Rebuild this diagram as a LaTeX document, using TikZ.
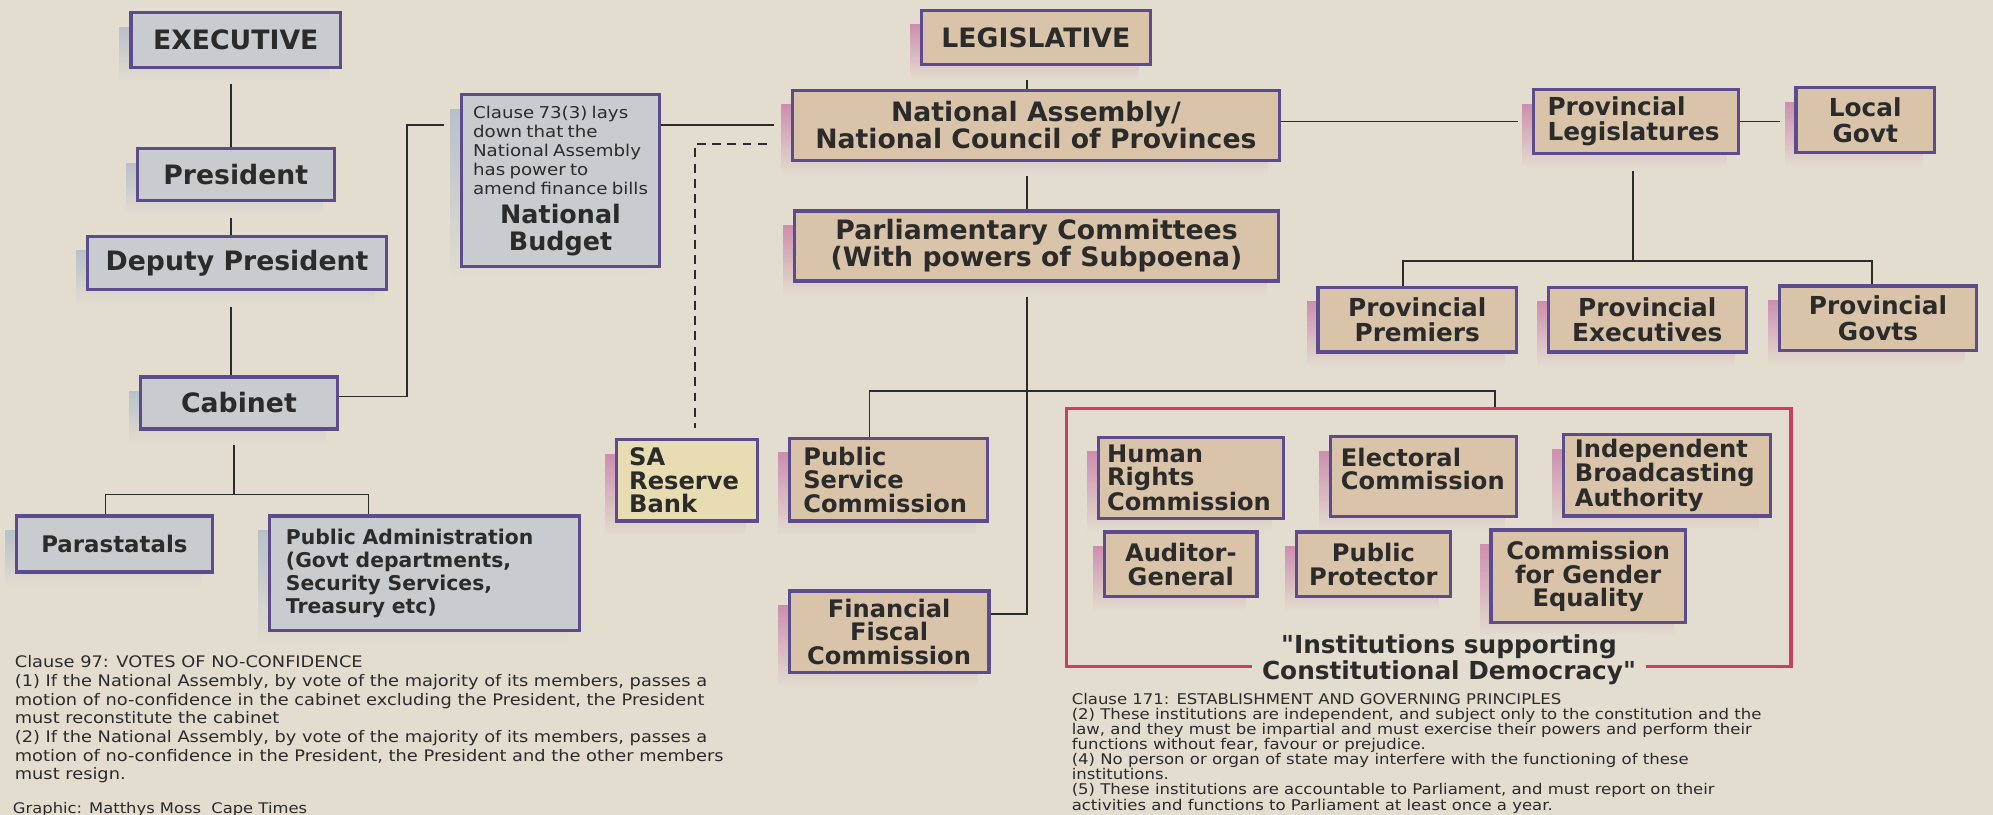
\documentclass[tikz,border=0pt]{standalone}
\usepackage{fontspec}
\setmainfont{DejaVu Sans}
\newfontfamily\noteFont[FakeStretch=1.12]{DejaVu Sans}
\newfontfamily\captionFont{DejaVu Sans}
\usepackage{xcolor}
\usetikzlibrary{shadows, fadings}

\definecolor{paper}{HTML}{E3DDCF}
\definecolor{exFill}{HTML}{C9CCCF}
\definecolor{exShadow}{HTML}{B3BECA}
\definecolor{lgFill}{HTML}{D9C4A9}
\definecolor{lgShadow}{HTML}{CB86AC}
\definecolor{bankFill}{HTML}{E8DDB2}
\definecolor{boxLine}{HTML}{5C4C8E}
\definecolor{frameRed}{HTML}{C8405E}
\definecolor{ink}{HTML}{2B2B2B}

\newcommand{\headFont}{\fontsize{21}{21}\selectfont\bfseries}
\newcommand{\bigFont}{\fontsize{21}{21}\selectfont\bfseries}
\newcommand{\provFont}{\fontsize{19.5}{20}\selectfont\bfseries}
\newcommand{\unitFont}{\fontsize{19}{18.5}\selectfont\bfseries}
\newcommand{\paraFont}{\fontsize{18}{18}\selectfont\bfseries}
\newcommand{\adminFont}{\fontsize{16}{18}\selectfont\bfseries}
\newcommand{\budgetNote}{\noteFont\fontsize{12.8}{15}\selectfont}
\newcommand{\budgetFont}{\fontsize{20}{21}\selectfont\bfseries}
\newcommand{\leftNote}{\noteFont\fontsize{12.5}{14.7}\selectfont}
\newcommand{\rightNote}{\noteFont\fontsize{11.6}{11.9}\selectfont}

\tikzset{
    orgBox/.style={draw=boxLine, line width=2.6pt, inner xsep=6pt, inner ysep=2pt, text=ink, align=center},
    exBox/.style={orgBox, fill=exFill, drop shadow={shadow xshift=-9pt, shadow yshift=-11pt, fill=exShadow, opacity=.9, path fading=south}},
    lgBox/.style={orgBox, fill=lgFill, drop shadow={shadow xshift=-9pt, shadow yshift=-11pt, fill=lgShadow, opacity=.9, path fading=south}},
    frameBox/.style={draw=frameRed, line width=2.8pt, inner sep=0pt},
    link/.style={draw=ink, line width=1.4pt},
    dashLink/.style={link, dash pattern=on 7pt off 5pt},
    noteText/.style={anchor=north west, inner sep=0pt, align=left, text=ink}
}

\begin{document}
\begin{tikzpicture}[x=1pt, y=-1pt]
    \fill[paper] (0,0) rectangle (1568,641);
    \useasboundingbox (0,0) rectangle (1568,641);

    % --- Executive ---
    \node[exBox, font=\headFont, minimum width=165pt, minimum height=43pt] (exec) at (185.5,31.5) {EXECUTIVE};
    \node[exBox, font=\bigFont, minimum width=155pt, minimum height=41pt] (pres) at (185.5,137.5) {President};
    \node[exBox, font=\bigFont, minimum width=235pt, minimum height=42pt] (deputy) at (186.5,207) {Deputy President};
    \node[exBox, font=\bigFont, minimum width=155pt, minimum height=41pt] (cabinet) at (188,317) {Cabinet};
    \node[exBox, font=\paraFont, minimum width=154pt, minimum height=44pt] (para) at (90,428) {Parastatals};
    \node[exBox, font=\adminFont, align=left, text width=218pt, inner xsep=13pt, minimum height=90pt] (pubadmin) at (334,451)
        {Public Administration\\(Govt departments,\\Security Services,\\Treasury etc)};
    \node[exBox, text width=144pt, minimum height=135pt] (budget) at (441,142)
        {{\budgetNote\begin{tabular}{@{}l@{}}Clause 73(3) lays\\down that the\\National Assembly\\has power to\\amend finance bills\end{tabular}}\\[2pt]{\budgetFont National\\Budget\par}};

    % --- Legislative ---
    \node[lgBox, font=\headFont, minimum width=180pt, minimum height=43pt] (legis) at (815,29.5) {LEGISLATIVE};
    \node[lgBox, font=\bigFont, minimum width=383pt, minimum height=55pt] (natass) at (815,98.5) {National Assembly/\\National Council of Provinces};
    \node[lgBox, font=\bigFont, minimum width=381pt, minimum height=55pt] (parl) at (815.5,193.5) {Parliamentary Committees\\(With powers of Subpoena)};
    \node[lgBox, font=\provFont, align=left, text width=139pt, inner xsep=11pt, minimum height=50pt] (provleg) at (1287,95.5) {Provincial\\Legislatures};
    \node[lgBox, font=\provFont, minimum width=109pt, minimum height=51pt] (localgovt) at (1467.5,94.5) {Local\\Govt};
    \node[lgBox, font=\provFont, minimum width=156pt, minimum height=51pt] (premiers) at (1115,251.5) {Provincial\\Premiers};
    \node[lgBox, font=\provFont, minimum width=156pt, minimum height=51pt] (provexec) at (1296,251.5) {Provincial\\Executives};
    \node[lgBox, font=\provFont, minimum width=155pt, minimum height=51pt] (provgovts) at (1477.5,250.5) {Provincial\\Govts};
    \node[lgBox, fill=bankFill, font=\unitFont, align=left, text width=91pt, inner xsep=10pt, minimum height=64pt] (sarb) at (540.5,378) {SA\\Reserve\\Bank};
    \node[lgBox, font=\unitFont, align=left, text width=134pt, inner xsep=11pt, minimum height=65pt] (psc) at (699,377.5) {Public\\Service\\Commission};
    \node[lgBox, font=\unitFont, minimum width=157pt, minimum height=64pt] (ffc) at (699.5,497) {Financial\\Fiscal\\Commission};

    % --- Institutions supporting constitutional democracy ---
    \node[frameBox, minimum width=570pt, minimum height=203pt] (instFrame) at (1124,423) {};
    \node[lgBox, font=\unitFont, align=left, text width=132pt, inner xsep=7pt, minimum height=64pt] (hrc) at (937,376) {Human\\Rights\\Commission};
    \node[lgBox, font=\unitFont, align=left, text width=130pt, inner xsep=8pt, minimum height=63pt] (elec) at (1120,375) {Electoral\\Commission\vspace*{12pt}};
    \node[lgBox, font=\unitFont, align=left, text width=145pt, inner xsep=9pt, minimum height=64pt] (iba) at (1311.5,374) {Independent\\Broadcasting\\Authority};
    \node[lgBox, font=\unitFont, minimum width=120pt, minimum height=51pt] (audit) at (929,444) {Auditor-\\General};
    \node[lgBox, font=\unitFont, minimum width=121pt, minimum height=51pt] (protector) at (1080.5,444) {Public\\Protector};
    \node[lgBox, font=\unitFont, minimum width=153pt, minimum height=73pt] (gender) at (1249.5,453.5) {Commission\\for Gender\\Equality};
    \node[fill=paper, text=ink, font=\captionFont\fontsize{19.5}{18.5}\selectfont\bfseries, align=center, inner xsep=8pt, inner ysep=1pt] (instCaption) at (1140,519)
        {"Institutions supporting\\Constitutional Democracy"};

    % --- connectors ---
    \coordinate (execAxis) at (182,0);
    \coordinate (cabJoin) at (184,389);
    \coordinate (budgetBend) at (320,98.5);
    \coordinate (legAxis) at (808,0);
    \coordinate (commJoin) at (808,307.5);
    \coordinate (instDrop) at (1176,0);
    \coordinate (provJoin) at (1285,205.5);

    \draw[link, shorten <=12pt] (exec.south -| execAxis) -- (pres.north -| execAxis);
    \draw[link, shorten <=12pt] (pres.south -| execAxis) -- (deputy.north -| execAxis);
    \draw[link, shorten <=12pt] (deputy.south -| execAxis) -- (cabinet.north -| execAxis);
    \draw[link, shorten <=11pt] (cabinet.south -| cabJoin) -- (cabJoin);
    \draw[link] ([xshift=-7pt]para.north) |- (cabJoin) -| ([xshift=-44pt]pubadmin.north);
    \draw[link, shorten >=12pt] ([yshift=5pt]cabinet.east) -| (budgetBend) -- (budget.west |- budgetBend);
    \draw[link, shorten >=13pt] (budget.east |- natass.west) -- (natass.west);
    \draw[dashLink, shorten <=19pt, shorten >=8pt] ([yshift=-15pt]natass.west) -| ([xshift=6pt]sarb.north);

    \draw[link, shorten <=11pt] (legis.south -| legAxis) -- (natass.north -| legAxis);
    \draw[link, shorten <=11pt] (natass.south -| legAxis) -- (parl.north -| legAxis);
    \draw[link, shorten <=11pt] (parl.south -| legAxis) |- ([yshift=14pt]ffc.east);
    \draw[link] ([xshift=-15pt]psc.north) |- (commJoin) -| (instFrame.north -| instDrop);

    \draw[link, shorten >=11pt] (natass.east |- provleg.west) -- (provleg.west);
    \draw[link, shorten >=11pt] (provleg.east) -- (localgovt.west |- provleg.east);
    \draw[link, shorten <=13pt] (provleg.south -| provJoin) -- (provJoin);
    \draw[link] ([xshift=-11pt]premiers.north) |- (provJoin) -| ([xshift=-5pt]provgovts.north);

    % --- clause notes ---
    \node[noteText, font=\leftNote] (clauseA) at (11.5,515.7)
        {Clause 97: VOTES OF NO-CONFIDENCE\\
         (1) If the National Assembly, by vote of the majority of its members, passes a\\
         motion of no-confidence in the cabinet excluding the President, the President\\
         must reconstitute the cabinet\\
         (2) If the National Assembly, by vote of the majority of its members, passes a\\
         motion of no-confidence in the President, the President and the other members\\
         must resign.};
    \node[noteText, font=\rightNote] (clauseB) at (843,545)
        {Clause 171: ESTABLISHMENT AND GOVERNING PRINCIPLES\\
         (2) These institutions are independent, and subject only to the constitution and the\\
         law, and they must be impartial and must exercise their powers and perform their\\
         functions without fear, favour or prejudice.\\
         (4) No person or organ of state may interfere with the functioning of these\\
         institutions.\\
         (5) These institutions are accountable to Parliament, and must report on their\\
         activities and functions to Parliament at least once a year.};
    \node[anchor=base west, inner sep=0pt, text=ink, font=\noteFont\fontsize{11.5}{12}\selectfont] (credit) at (10,640)
        {Graphic: Matthys Moss\hspace{8pt}Cape Times};
\end{tikzpicture}
\end{document}
